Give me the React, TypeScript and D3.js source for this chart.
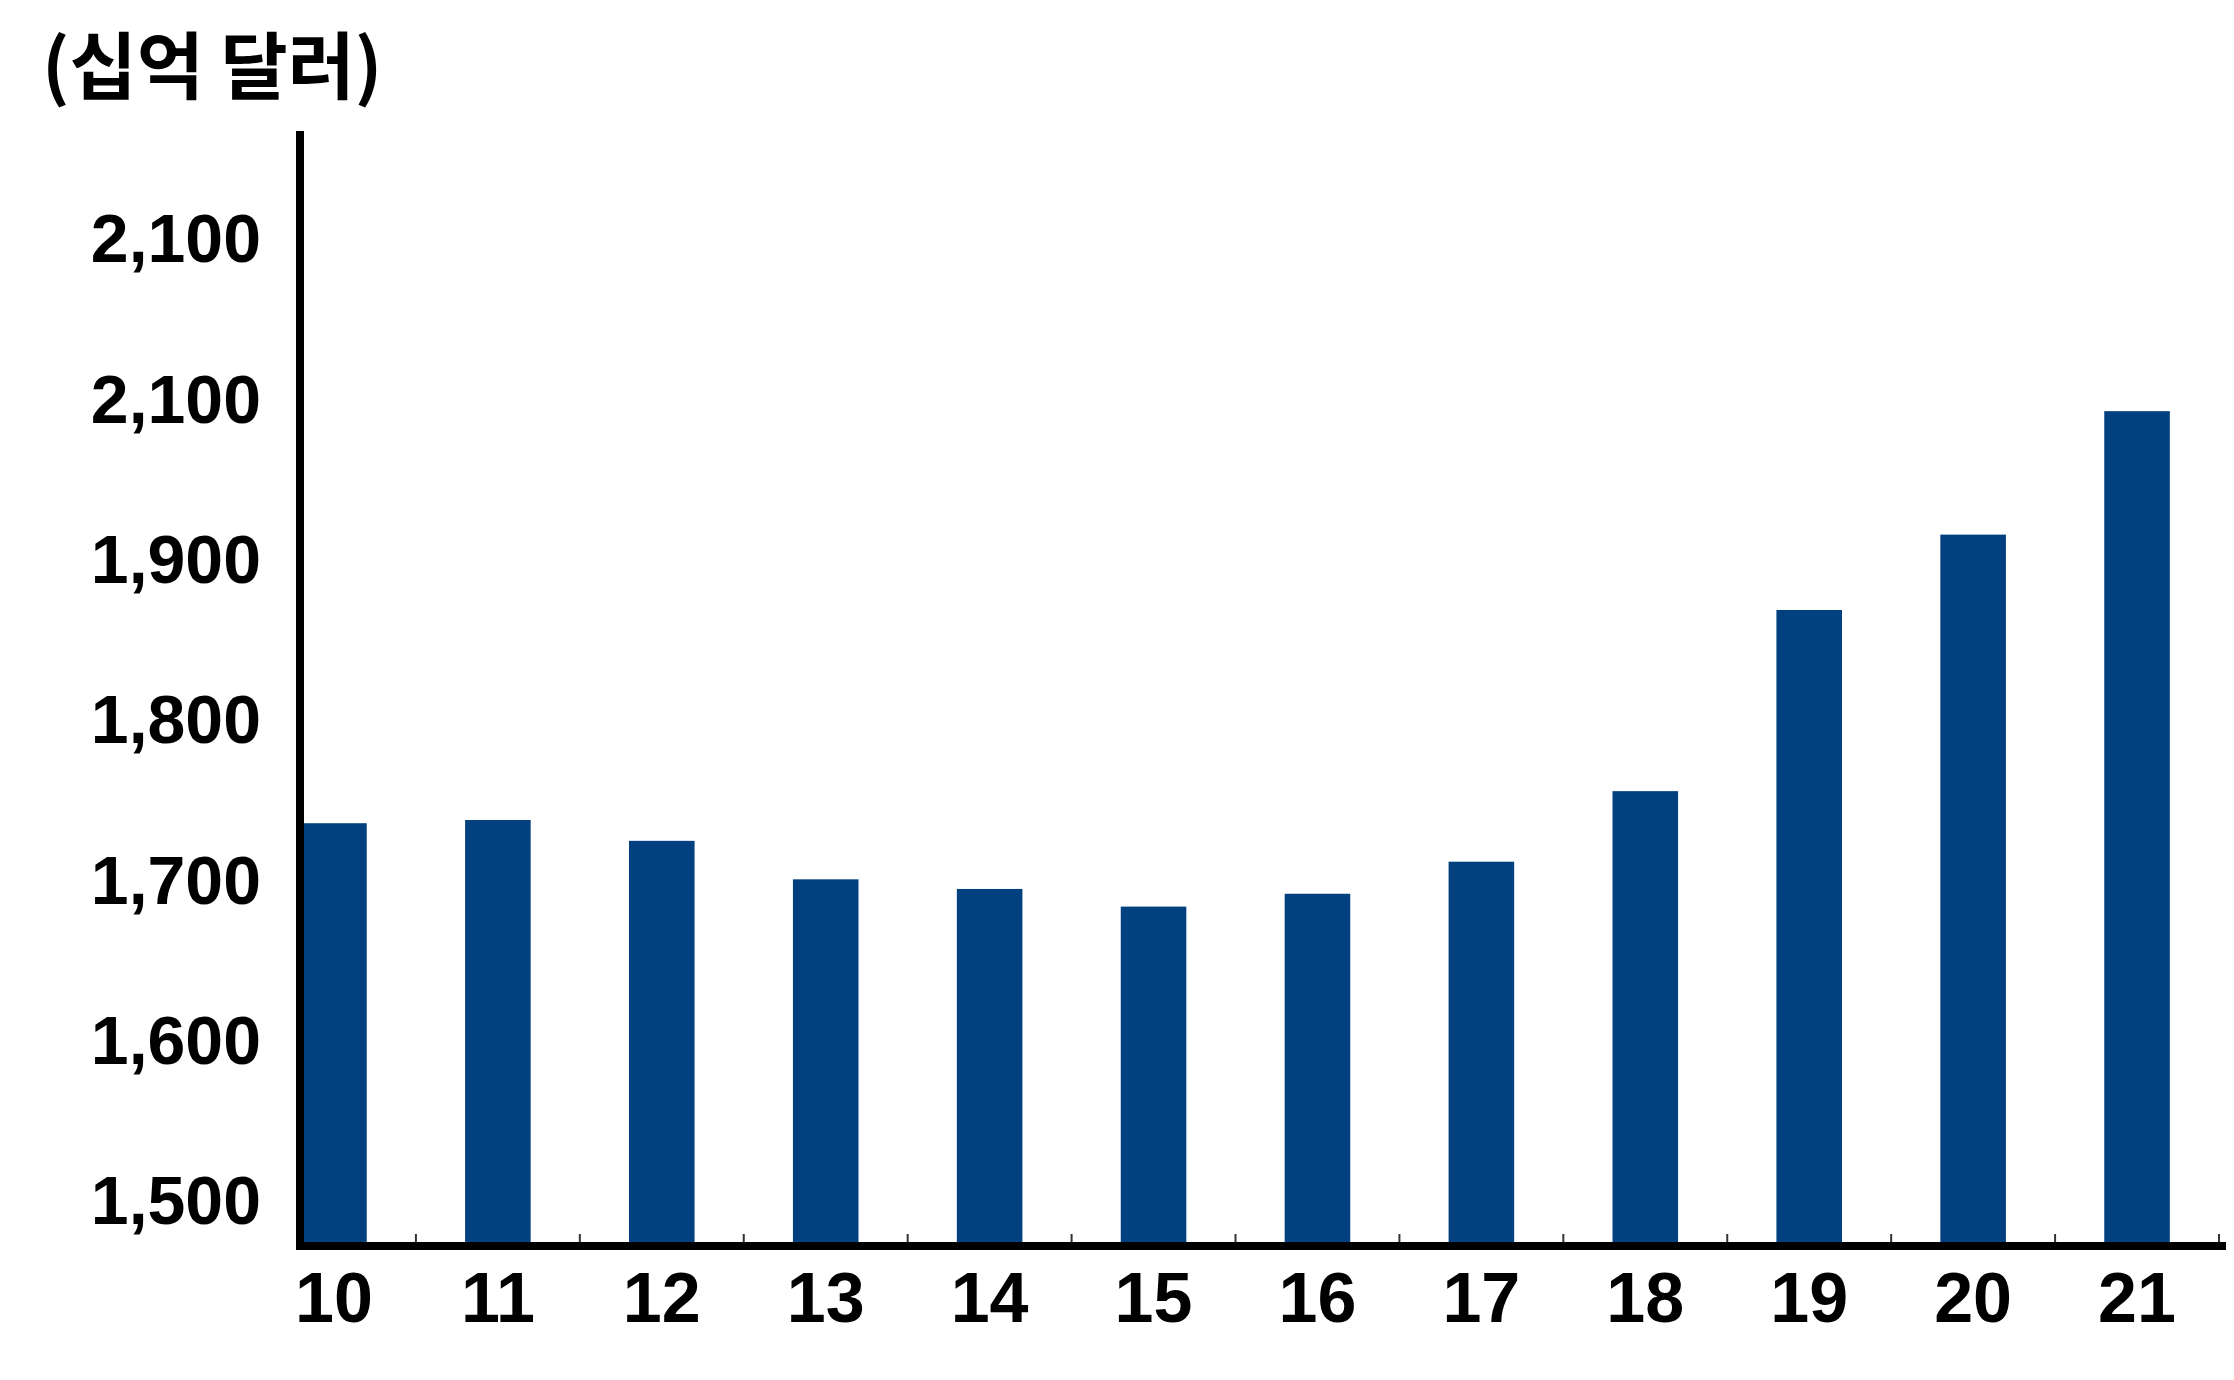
import React from "react";
import * as d3 from "d3";

const categories = ["10", "11", "12", "13", "14", "15", "16", "17", "18", "19", "20", "21"];
const values = [1735, 1737, 1724, 1700, 1694, 1683, 1691, 1711, 1755, 1868, 1915, 1992];
const tickValues = [1500, 1600, 1700, 1800, 1900, 2000, 2100];
const tickLabels = ["1,500", "1,600", "1,700", "1,800", "1,900", "2,100", "2,100"];
const unitLabel = "(십억 달러)";

const W = 2234;
const H = 1380;
const BAR_COLOR = "#02407f";

export default function App() {
  const y = d3.scaleLinear().domain([1500, 2100]).range([1200, 238]);
  const x = d3
    .scaleBand<string>()
    .domain(categories)
    .range([252, 2219])
    .paddingInner(0.6)
    .paddingOuter(0.3);
  const baseY = 1246;
  const axisX = 300;
  const step = x.step();
  const bw = x.bandwidth();
  const boundaries = categories.map((c) => (x(c) as number) + bw / 2 + step / 2);

  return (
    <svg
      width={W}
      height={H}
      style={{ position: "absolute", left: 0, top: 0, background: "#fff" }}
    >
      <rect x={0} y={0} width={W} height={H} fill="#fff" />
      <text
        x={42}
        y={93}
        fontFamily="'Noto Sans CJK KR', 'Liberation Sans', sans-serif"
        fontWeight={700}
        fontSize={73}
        fill="#000"
      >
        {unitLabel}
      </text>
      {categories.map((c, i) => (
        <rect
          key={c}
          x={x(c)}
          y={y(values[i])}
          width={bw}
          height={baseY - y(values[i])}
          fill={BAR_COLOR}
        />
      ))}
      {boundaries.map((b, i) => (
        <line key={i} x1={b} x2={b} y1={baseY} y2={baseY - 12} stroke="#333" strokeWidth={2} />
      ))}
      <line x1={axisX} x2={axisX} y1={131} y2={baseY + 4} stroke="#000" strokeWidth={8} />
      <line x1={axisX - 4} x2={2226} y1={baseY} y2={baseY} stroke="#000" strokeWidth={8} />
      {tickValues.map((v, i) => (
        <text
          key={v}
          x={261}
          y={y(v)}
          dy="0.36em"
          textAnchor="end"
          fontFamily="'Liberation Sans', Arial, sans-serif"
          fontWeight={700}
          fontSize={68}
          fill="#000"
        >
          {tickLabels[i]}
        </text>
      ))}
      {categories.map((c) => (
        <text
          key={c}
          x={(x(c) as number) + bw / 2}
          y={1322}
          textAnchor="middle"
          fontFamily="'Liberation Sans Narrow', 'Liberation Sans', Arial, sans-serif"
          fontWeight={700}
          fontSize={70}
          fill="#000"
        >
          {c}
        </text>
      ))}
    </svg>
  );
}
